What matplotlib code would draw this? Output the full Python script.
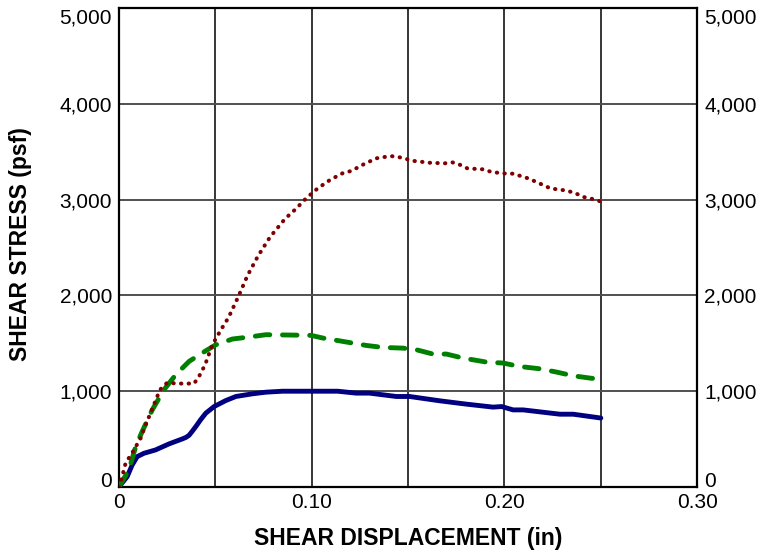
import matplotlib.pyplot as plt
from matplotlib.ticker import FuncFormatter
import numpy as np

plt.rcParams['font.family'] = ['Liberation Sans', 'DejaVu Sans']

# curves (displacement in, stress psf)
red_x = [0, 0.0012, 0.0035, 0.0073, 0.0113, 0.0139, 0.0168, 0.0199, 0.0213, 0.0251, 0.030, 0.039,
         0.0416, 0.0447, 0.0485, 0.0529, 0.0569, 0.0619, 0.0667, 0.0723, 0.0785, 0.0862, 0.0919,
         0.0971, 0.1031, 0.1097, 0.1166, 0.1204, 0.1269, 0.1335, 0.1409, 0.145, 0.1534, 0.1612,
         0.169, 0.173, 0.1773, 0.1808, 0.1893, 0.1933, 0.2011, 0.2045, 0.2123, 0.2167, 0.2239,
         0.2317, 0.2362, 0.2414, 0.2452, 0.25]
red_y = [0, 70, 250, 370, 510, 650, 790, 945, 1015, 1090, 1080, 1080, 1155, 1275, 1485, 1640, 1770,
         1985, 2207, 2416, 2612, 2800, 2905, 3013, 3117, 3208, 3281, 3298, 3368, 3431, 3455, 3445,
         3403, 3385, 3379, 3389, 3361, 3326, 3316, 3288, 3271, 3271, 3222, 3183, 3117, 3096, 3072,
         3026, 3009, 2981]

green_x = [0, 0.0052, 0.0087, 0.0121, 0.0173, 0.0234, 0.0295, 0.0364, 0.0433, 0.0503, 0.0589,
           0.0676, 0.0763, 0.0936, 0.0997, 0.1058, 0.1162, 0.1283, 0.1369, 0.1473, 0.1543, 0.1629,
           0.1699, 0.1785, 0.1907, 0.1993, 0.208, 0.2184, 0.227, 0.2357, 0.2444, 0.25]
green_y = [0, 178, 420, 580, 805, 1015, 1172, 1311, 1400, 1485, 1545, 1566, 1590, 1585, 1583, 1555,
           1520, 1478, 1457, 1450, 1433, 1388, 1388, 1346, 1304, 1294, 1258, 1234, 1200, 1161, 1137,
           1125]

blue_x = [0, 0.0043, 0.0069, 0.0095, 0.013, 0.019, 0.026, 0.0329, 0.0348, 0.0364, 0.038, 0.0399,
          0.0425, 0.0451, 0.0494, 0.0555, 0.0607, 0.0693, 0.0763, 0.0849, 0.0936, 0.1109, 0.1135,
          0.1231, 0.13, 0.1439, 0.1508, 0.1664, 0.1803, 0.1941, 0.1985, 0.2045, 0.2097, 0.2288,
          0.2357, 0.25]
blue_y = [0, 108, 230, 317, 352, 387, 450, 502, 518, 540, 580, 631, 705, 771, 840, 903, 945, 973,
          990, 1000, 1000, 1000, 1000, 980, 980, 945, 945, 900, 865, 834, 840, 805, 805, 760, 760,
          720]

x_ticks = [0, 0.05, 0.10, 0.15, 0.20, 0.25, 0.30]
x_labels = ['0', '', '0.10', '', '0.20', '', '0.30']
y_ticks = [0, 1000, 2000, 3000, 4000, 5000]

fig = plt.figure(figsize=(7.62, 5.55), dpi=100)
ax = fig.add_axes([0.156, 0.1225, 0.759, 0.863])

ax.plot(blue_x, blue_y, color='#000080', lw=3.5, solid_capstyle='round',
        solid_joinstyle='round', zorder=3)
ax.plot(green_x, green_y, color='#008000', lw=3.5, linestyle=(0, (3.0, 2.6)),
        dash_capstyle='round', zorder=3)
ax.plot(red_x, red_y, color='#800000', lw=2.9, linestyle=(0, (0.1, 1.8)),
        dash_capstyle='round', zorder=3)

ax.set_xlim(0, 0.30)
ax.set_ylim(0, 5000)
ax.set_xticks(x_ticks)
ax.set_xticklabels(x_labels)
ax.set_yticks(y_ticks)
ax.yaxis.set_major_formatter(FuncFormatter(lambda v, p: '{:,.0f}'.format(v)))

for x in x_ticks[1:-1]:
    ax.axvline(x, color='black', lw=1.1, zorder=1)
for y in y_ticks[1:-1]:
    ax.axhline(y, color='#505050', lw=1.4, zorder=1)

for s in ax.spines.values():
    s.set_color('black')
    s.set_linewidth(1.6)

ax.tick_params(axis='both', length=0, labelsize=15)
ax.tick_params(axis='y', pad=5, labelright=True)
ax.tick_params(axis='x', pad=4)

# end labels pulled inside like the original
ticks = ax.yaxis.get_major_ticks()
for lab in (ticks[0].label1, ticks[0].label2):
    lab.set_verticalalignment('baseline')
for lab in (ticks[-1].label1, ticks[-1].label2):
    lab.set_verticalalignment('top')

ax.set_xlabel('SHEAR DISPLACEMENT (in)', fontsize=16.5, fontweight='bold', va='center')
ax.xaxis.set_label_coords(0.5, -0.1065)
ax.set_ylabel('SHEAR STRESS (psf)', fontsize=16.5, fontweight='bold', va='center')
ax.yaxis.set_label_coords(-0.1696, 0.508)

plt.savefig('out.png', dpi=100)
